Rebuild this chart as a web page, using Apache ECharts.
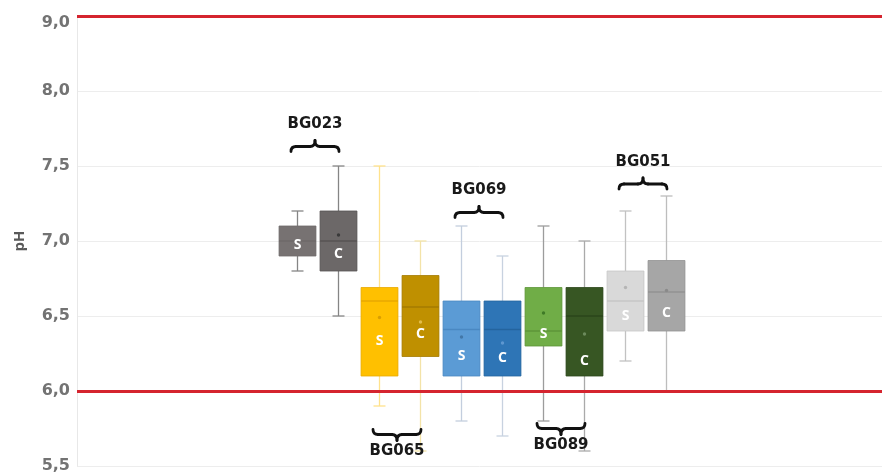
<!DOCTYPE html>
<html>
<head>
<meta charset="utf-8">
<title>pH</title>
<script src="https://cdn.jsdelivr.net/npm/echarts@6/dist/echarts.min.js"></script>
<style>
html, body { margin: 0; padding: 0; background: #fff; }
#chart { width: 882px; height: 475px; }
</style>
</head>
<body>
<div id="chart"></div>
<script>
'use strict';
// 箱线图数据 (S / C 成对)
var boxNames = ['BG023 S', 'BG023 C', 'BG065 S', 'BG065 C', 'BG069 S', 'BG069 C', 'BG089 S', 'BG089 C', 'BG051 S', 'BG051 C'];
var boxLetters = ['S', 'C', 'S', 'C', 'S', 'C', 'S', 'C', 'S', 'C'];
var whiskerLow = [6.8, 6.5, 5.9, 5.6, 5.8, 5.7, 5.8, 5.6, 6.2, 6.0];
var quartile1 = [6.9, 6.8, 6.1, 6.23, 6.1, 6.1, 6.3, 6.1, 6.4, 6.4];
var medians = [7.0, 7.0, 6.6, 6.56, 6.41, 6.41, 6.4, 6.5, 6.6, 6.66];
var quartile3 = [7.1, 7.2, 6.69, 6.77, 6.6, 6.6, 6.69, 6.69, 6.8, 6.87];
var whiskerHigh = [7.2, 7.5, 7.5, 7.0, 7.1, 6.9, 7.1, 7.0, 7.2, 7.3];
var means = [7.0, 7.04, 6.49, 6.46, 6.36, 6.32, 6.52, 6.38, 6.69, 6.67];
// 方框内字母的高度
var letterY = [6.97, 6.91, 6.33, 6.38, 6.23, 6.22, 6.38, 6.2, 6.5, 6.52];
// 分组标注
var groupNames = ['BG023', 'BG065', 'BG069', 'BG089', 'BG051'];
var groupSide = ['top', 'bottom', 'top', 'bottom', 'top'];
var braceY = [7.63, 5.71, 7.19, 5.75, 7.38];
// 上下限
var limitValues = [6.0, 9.0];
var yTickLabels = ['5,5', '6,0', '6,5', '7,0', '7,5', '8,0', '9,0'];

// 颜色
var boxColors = ['#777272', '#6C6868', '#FFC000', '#BF9000', '#5B9BD5', '#2E75B6', '#70AD47', '#375623', '#D9D9D9', '#A6A6A6'];
var medianColors = ['#6e6a6a', '#575353', '#E8A900', '#A47B00', '#4A88C2', '#24649E', '#5E9639', '#2B461B', '#C6C6C6', '#929292'];
var whiskerColors = ['#858585', '#858585', '#FFE28C', '#F3E3A8', '#C3CEDE', '#C8D2E0', '#9C9C9C', '#AAAAAA', '#C2C2C2', '#BDBDBD'];
var meanColors = ['#777272', '#3a3a3a', '#D99E00', '#E2BD4A', '#4377A8', '#5E97D0', '#3F7A27', '#6C8A5C', '#B5B5B5', '#8A8A8A'];

// 9,0 以上的刻度被压缩 (原图坐标轴)
function toAxis(v) {
    return v > 8 ? 8 + (v - 8) / 2 : v;
}

var chart = echarts.init(document.getElementById('chart'));

// 画一个箱子
function renderBox(params, api) {
    var i = params.dataIndex;
    var cx = api.coord([i, api.value(3)])[0];
    var w = api.size([1, 0])[0] * 0.9;
    var py = function (v) { return api.coord([i, v])[1]; };
    var yLow = py(api.value(1));
    var yQ1 = py(api.value(2));
    var yMed = py(api.value(3));
    var yQ3 = py(api.value(4));
    var yHigh = py(api.value(5));
    var yMean = py(api.value(6));
    var ws = function () { return { stroke: whiskerColors[i], lineWidth: 1.3 }; };
    return {
        type: 'group',
        children: [
            { type: 'line', shape: { x1: cx, y1: yHigh, x2: cx, y2: yQ3 }, style: ws() },
            { type: 'line', shape: { x1: cx, y1: yQ1, x2: cx, y2: yLow }, style: ws() },
            { type: 'line', shape: { x1: cx - 6, y1: yHigh, x2: cx + 6, y2: yHigh }, style: ws() },
            { type: 'line', shape: { x1: cx - 6, y1: yLow, x2: cx + 6, y2: yLow }, style: ws() },
            {
                type: 'rect',
                shape: { x: cx - w / 2, y: yQ3, width: w, height: yQ1 - yQ3 },
                style: { fill: boxColors[i], stroke: medianColors[i], lineWidth: 0.8 }
            },
            { type: 'line', shape: { x1: cx - w / 2, y1: yMed, x2: cx + w / 2, y2: yMed }, style: { stroke: medianColors[i], lineWidth: 1.5 } },
            { type: 'circle', shape: { cx: cx, cy: yMean, r: 1.7 }, style: { fill: meanColors[i] } },
            {
                type: 'text',
                x: cx,
                y: py(letterY[i]),
                style: {
                    text: boxLetters[i],
                    fill: '#ffffff',
                    font: 'bold 14px "Open Sans"',
                    align: 'center',
                    verticalAlign: 'middle'
                }
            }
        ]
    };
}

// 花括号 + 组名
function renderBrace(params, api) {
    var g = params.dataIndex;
    var p1 = api.coord([2 * g, api.value(1)]);
    var p2 = api.coord([2 * g + 1, api.value(1)]);
    var y = p1[1];
    var cx = (p1[0] + p2[0]) / 2 - 3;
    var l = cx - 24, r = cx + 24;
    var d = groupSide[g] === 'top' ? 1 : -1;
    var e = 5 * d, t = -6 * d;
    var bs = function () { return { stroke: '#111111', lineWidth: 2.8, fill: null, lineCap: 'round' }; };
    return {
        type: 'group',
        children: [
            { type: 'bezierCurve', shape: { x1: l, y1: y + e, cpx1: l, cpy1: y, x2: l + 5, y2: y }, style: bs() },
            { type: 'line', shape: { x1: l + 5, y1: y, x2: cx - 5, y2: y }, style: bs() },
            { type: 'bezierCurve', shape: { x1: cx - 5, y1: y, cpx1: cx, cpy1: y, x2: cx, y2: y + t }, style: bs() },
            { type: 'bezierCurve', shape: { x1: cx, y1: y + t, cpx1: cx, cpy1: y, x2: cx + 5, y2: y }, style: bs() },
            { type: 'line', shape: { x1: cx + 5, y1: y, x2: r - 5, y2: y }, style: bs() },
            { type: 'bezierCurve', shape: { x1: r - 5, y1: y, cpx1: r, cpy1: y, x2: r, y2: y + e }, style: bs() },
            {
                type: 'text',
                x: cx,
                y: d === 1 ? y - 22 : y + 17,
                style: {
                    text: groupNames[g],
                    fill: '#1a1a1a',
                    font: 'bold 15px "DejaVu Sans"',
                    align: 'center',
                    verticalAlign: 'middle'
                }
            }
        ]
    };
}

var boxData = boxNames.map(function (n, i) {
    return [i, whiskerLow[i], quartile1[i], medians[i], quartile3[i], whiskerHigh[i], means[i]];
});
var braceData = groupNames.map(function (n, g) {
    return [g, braceY[g]];
});

var labelFont = { color: '#737373', fontSize: 16, fontWeight: 'bold', fontFamily: 'DejaVu Sans' };

var option = {
    animation: false,
    grid: [
        { left: 77, right: 0, top: 16, bottom: 9 },
        { left: 277, width: 410, top: 16, bottom: 9 }
    ],
    xAxis: [
        { type: 'value', gridIndex: 0, min: 0, max: 1, show: false },
        { type: 'category', gridIndex: 1, data: boxNames, show: false }
    ],
    yAxis: [
        {
            type: 'value',
            gridIndex: 0,
            min: 5.5,
            max: 8.5,
            interval: 0.5,
            name: 'pH',
            nameLocation: 'middle',
            nameRotate: 90,
            nameGap: 50,
            nameTextStyle: { color: '#595959', fontSize: 15, fontWeight: 'bold', fontFamily: 'Open Sans' },
            axisLine: { show: true, lineStyle: { color: '#E8E8E8' } },
            axisTick: { show: false },
            axisLabel: {
                color: labelFont.color,
                fontSize: labelFont.fontSize,
                fontWeight: labelFont.fontWeight,
                fontFamily: labelFont.fontFamily,
                margin: 7,
                formatter: function (v) {
                    var k = Math.round((v - 5.5) / 0.5);
                    // 顶部标签在原图里略低于红线
                    return k === yTickLabels.length - 1 ? '{low|' + yTickLabels[k] + '}' : yTickLabels[k];
                },
                rich: {
                    low: {
                        color: labelFont.color,
                        fontSize: labelFont.fontSize,
                        fontWeight: labelFont.fontWeight,
                        fontFamily: labelFont.fontFamily,
                        padding: [14, 0, 0, 0]
                    }
                }
            },
            splitLine: { show: true, lineStyle: { color: '#EDEDED' } }
        },
        { type: 'value', gridIndex: 1, min: 5.5, max: 8.5, show: false }
    ],
    series: [
        {
            type: 'line',
            xAxisIndex: 0,
            yAxisIndex: 0,
            data: [],
            silent: true,
            markLine: {
                silent: true,
                symbol: ['none', 'none'],
                label: { show: false },
                lineStyle: { color: '#D5242F', width: 3, type: 'solid' },
                data: limitValues.map(function (v) { return { yAxis: toAxis(v) }; })
            }
        },
        {
            type: 'custom',
            name: 'pH',
            xAxisIndex: 1,
            yAxisIndex: 1,
            renderItem: renderBox,
            encode: { x: 0, y: [1, 2, 3, 4, 5] },
            clip: false,
            data: boxData
        },
        {
            type: 'custom',
            xAxisIndex: 1,
            yAxisIndex: 1,
            renderItem: renderBrace,
            encode: { x: 0, y: 1 },
            clip: false,
            silent: true,
            data: braceData
        }
    ]
};
chart.setOption(option);
</script>
</body>
</html>
